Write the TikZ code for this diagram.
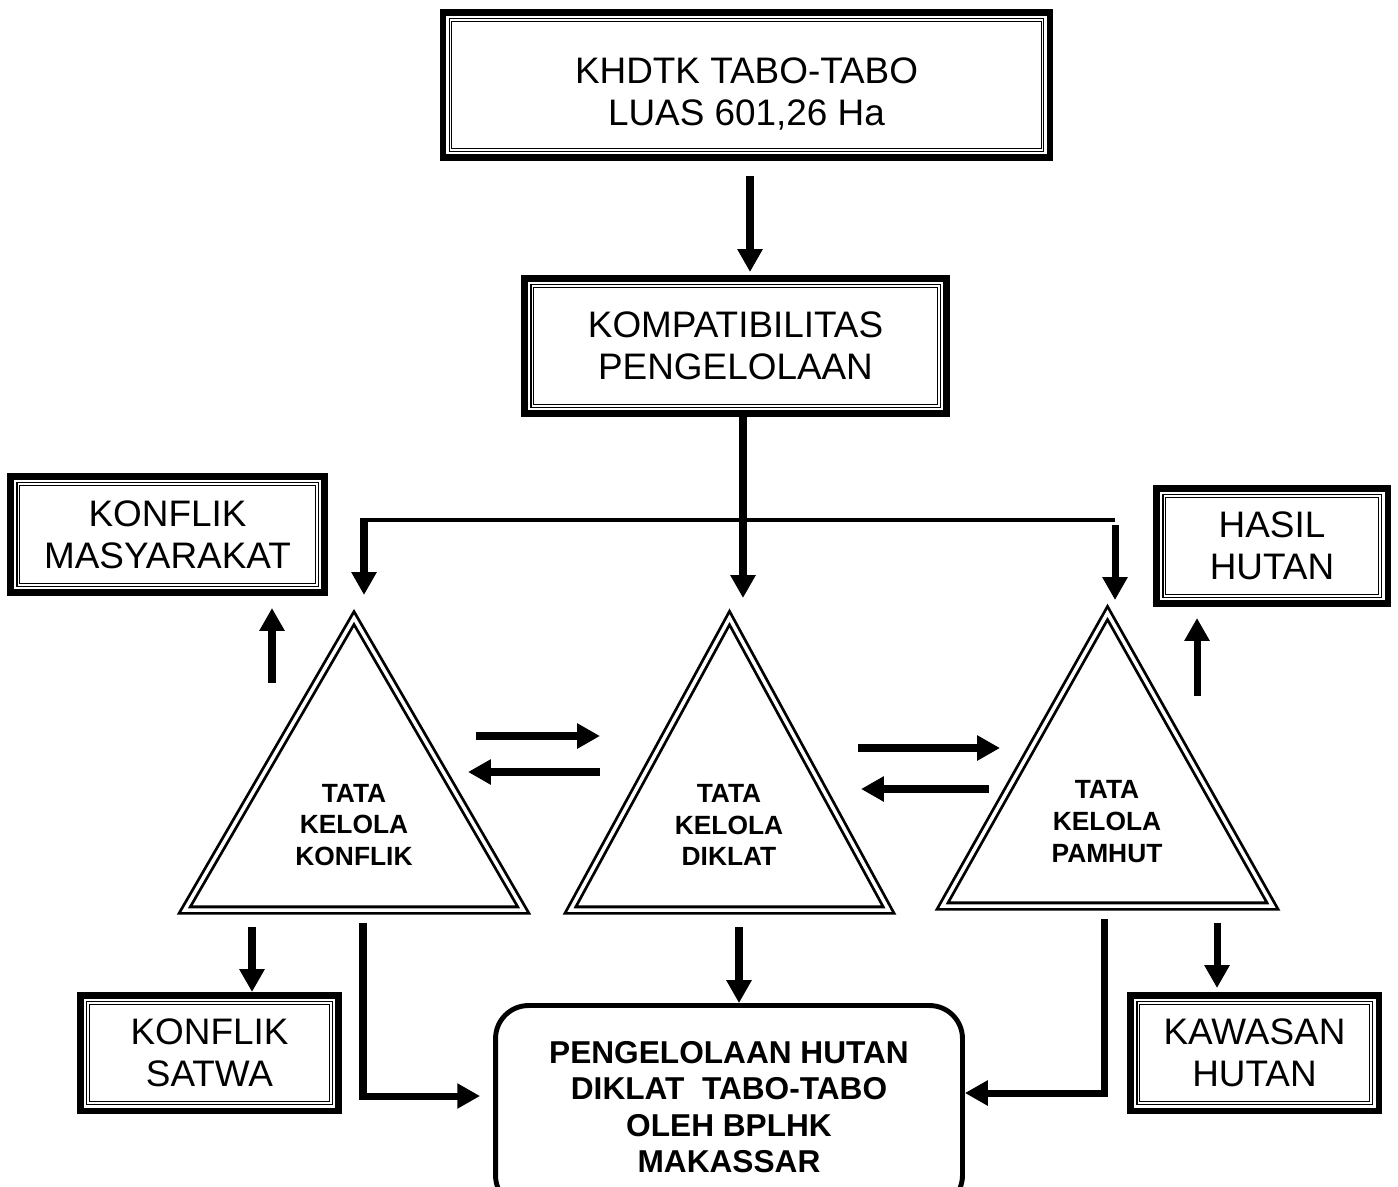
\documentclass[tikz,border=0pt]{standalone}
\usepackage{fontspec}
\setmainfont{Liberation Sans}
\usetikzlibrary{arrows.meta}

\tikzset{
  kotak/.style={draw, line width=3.7pt, inner sep=0pt, align=center,
    font=\fontsize{21}{24}\selectfont,
    append after command={\pgfextra{%
      \draw[line width=0.7pt, double, double distance=0.6pt]
        ([shift={(0.22cm,-0.22cm)}]\tikzlastnode.north west) rectangle
        ([shift={(-0.22cm,0.22cm)}]\tikzlastnode.south east);}}},
  bulat/.style={draw, line width=2.8pt, rounded corners=0.66cm, inner sep=0pt,
    align=center, font=\fontsize{18}{20.8}\selectfont\bfseries},
  segitiga/.style={line width=1.6pt, double, double distance=2pt},
  tulisan/.style={inner sep=0pt, align=center, font=\fontsize{15}{18}\selectfont\bfseries},
  panah/.style={line width=4pt, -{Triangle[width=13.6pt,length=13pt]}},
  garis/.style={line width=2.3pt}
}

\begin{document}
\begin{tikzpicture}[x=0.02cm, y=-0.02cm]
        \useasboundingbox (0,0) rectangle (1398,1186);

        % kotak-kotak
        \node[kotak, minimum width=12.15cm, minimum height=2.91cm] (khdtk) at (746.5,85)
            {\rule{0pt}{25pt}KHDTK TABO-TABO\\LUAS 601,26 Ha};
        \node[kotak, minimum width=8.45cm, minimum height=2.71cm] (kompat) at (735.5,346)
            {KOMPATIBILITAS\\PENGELOLAAN};
        \node[kotak, minimum width=6.29cm, minimum height=2.33cm] (masy) at (167.5,534.5)
            {KONFLIK\\MASYARAKAT};
        \node[kotak, minimum width=4.63cm, minimum height=2.31cm] (hasil) at (1272,546)
            {HASIL\\HUTAN};
        \node[kotak, minimum width=5.17cm, minimum height=2.31cm] (satwa) at (209.5,1053)
            {KONFLIK\\SATWA};
        \node[kotak, minimum width=4.97cm, minimum height=2.31cm] (kawasan) at (1254.5,1053)
            {KAWASAN\\HUTAN};
        \node[bulat, minimum width=9.34cm, minimum height=4.06cm] (pengelolaan) at (729,1107)
            {PENGELOLAAN HUTAN\\DIKLAT\ \ TABO-TABO\\OLEH BPLHK\\MAKASSAR};

        % segitiga tata kelola
        \draw[segitiga] (354,618) -- (184.7,910) -- (523.3,910) -- cycle;
        \draw[segitiga] (729.5,618) -- (570.4,910) -- (888.6,910) -- cycle;
        \draw[segitiga] (1107.5,613) -- (942.5,906) -- (1272.5,906) -- cycle;
        \node[tulisan] (konflik) at (354,825) {TATA\\KELOLA\\KONFLIK};
        \node[tulisan] (diklat) at (729,825) {TATA\\KELOLA\\DIKLAT};
        \node[tulisan] (pamhut) at (1107,821.5) {TATA\\KELOLA\\PAMHUT};

        % titik bantu
        \coordinate (turun-atas) at (750,176);
        \coordinate (puncak-diklat) at (743,598);
        \coordinate (cabang-kiri) at (364,520);
        \coordinate (cabang-kanan) at (1115,520);
        \coordinate (puncak-konflik) at (364,595);
        \coordinate (puncak-pamhut) at (1115,600);
        \coordinate (naik-kiri) at (272,683);
        \coordinate (naik-kanan) at (1197,696);
        \coordinate (turun-satwa) at (252,927);
        \coordinate (turun-diklat) at (739,927);
        \coordinate (turun-kawasan) at (1217,923);
        \coordinate (siku-kiri-atas) at (363,923);
        \coordinate (siku-kiri) at (363,1096);
        \coordinate (siku-kanan-atas) at (1104,919);
        \coordinate (siku-kanan) at (1104,1093);
        \coordinate (kd1) at (476,736);  \coordinate (kd2) at (600,736);
        \coordinate (dk1) at (600,772);  \coordinate (dk2) at (468,772);
        \coordinate (dp1) at (858,748);  \coordinate (dp2) at (1000,748);
        \coordinate (pd1) at (989,789);  \coordinate (pd2) at (861,789);

        % alur atas
        \draw[panah, shorten >=0.06cm] (turun-atas) -- (turun-atas |- kompat.north);
        \draw[panah] (kompat.south -| puncak-diklat) -- (puncak-diklat);
        \draw[garis] (cabang-kiri) -- (cabang-kanan);
        \draw[panah] ([yshift=0.04cm]cabang-kiri) -- (puncak-konflik);
        \draw[panah] ([yshift=-0.1cm]cabang-kanan) -- (puncak-pamhut);

        % keluar dari segitiga
        \draw[panah, shorten >=0.24cm] (naik-kiri) -- (naik-kiri |- masy.south);
        \draw[panah, shorten >=0.22cm] (naik-kanan) -- (naik-kanan |- hasil.south);
        \draw[panah] (turun-satwa) -- (turun-satwa |- satwa.north);
        \draw[panah] (turun-diklat) -- (turun-diklat |- pengelolaan.north);
        \draw[panah, shorten >=0.08cm] (turun-kawasan) -- (turun-kawasan |- kawasan.north);
        \draw[panah, shorten >=0.26cm] (siku-kiri-atas) -- (siku-kiri) -- (siku-kiri -| pengelolaan.west);
        \draw[panah] (siku-kanan-atas) -- (siku-kanan) -- (siku-kanan -| pengelolaan.east);

        % bolak-balik antar segitiga
        \draw[panah] (kd1) -- (kd2);
        \draw[panah] (dk1) -- (dk2);
        \draw[panah] (dp1) -- (dp2);
        \draw[panah] (pd1) -- (pd2);
    \end{tikzpicture}
\end{document}
